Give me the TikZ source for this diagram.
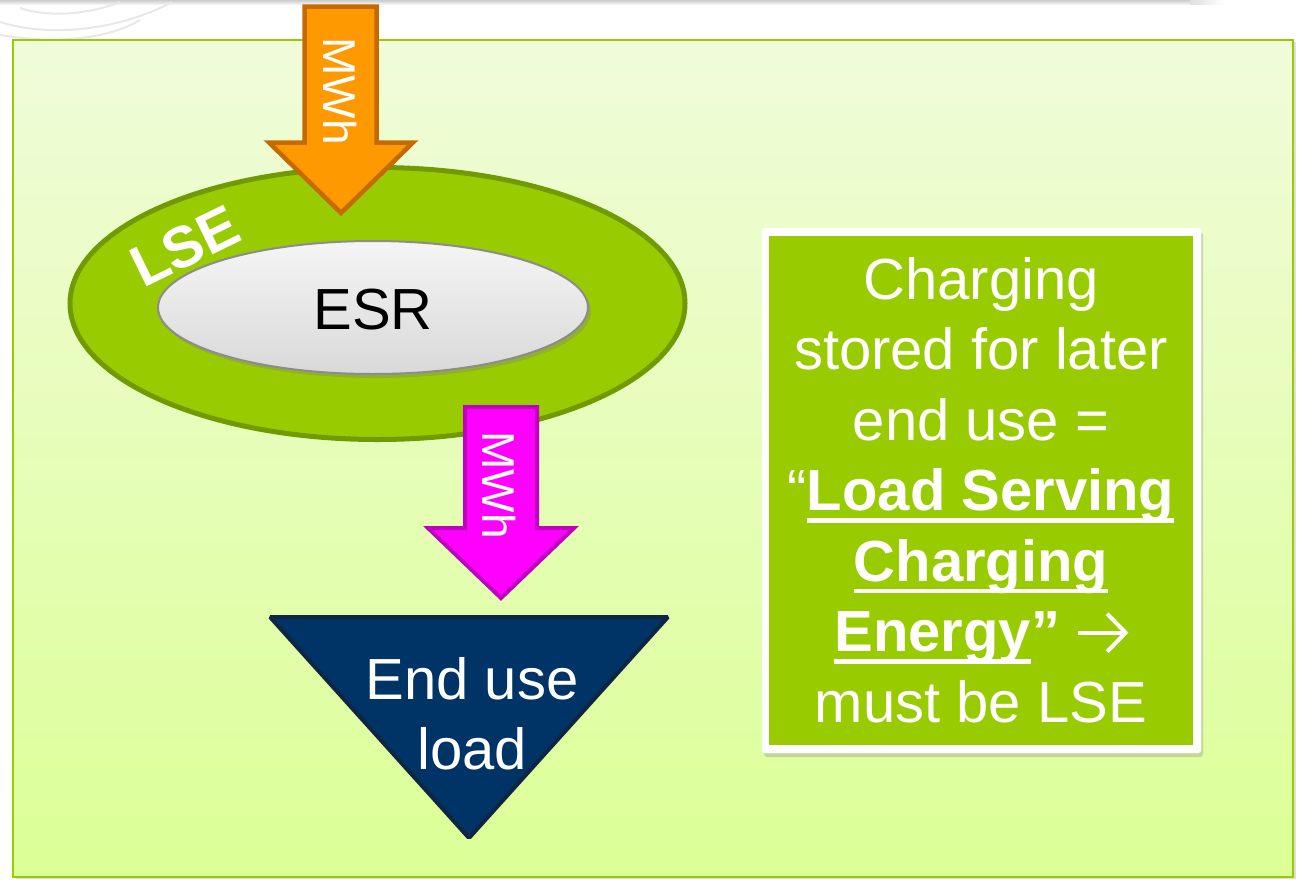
\documentclass[tikz,border=0pt]{standalone}
\usepackage{fontspec}
\setmainfont{Liberation Sans}
\usetikzlibrary{shadows,shapes.geometric}
\definecolor{panelTop}{HTML}{F0FCDA}
\definecolor{panelBot}{HTML}{DCFF96}
\definecolor{leaf}{HTML}{99CC00}
\definecolor{leafDark}{HTML}{709A00}
\definecolor{orangeF}{HTML}{FF9900}
\definecolor{orangeD}{HTML}{C56A00}
\definecolor{magF}{HTML}{FF00FF}
\definecolor{magD}{HTML}{C000C0}
\definecolor{navyF}{HTML}{003366}
\definecolor{navyD}{HTML}{0E2644}
\definecolor{esrD}{HTML}{8C8C8C}
\newcommand\myul[1]{\setbox0\hbox{#1}\rlap{\rule[-12pt]{\wd0}{4.5pt}}\box0}
\newcommand\rarrowsym{\begin{tikzpicture}[x=1pt,y=1pt,baseline=0pt]
  \draw[white, line width=4pt, line cap=butt, line join=miter] (0,19) -- (46,19);
  \draw[white, line width=4pt, line join=miter] (29,38) -- (47.5,19) -- (29,0);
\end{tikzpicture}}
\tikzset{
  bigtext/.style={font=\fontsize{58}{70.5}\selectfont, inner sep=0pt},
  mwhtext/.style={font=\fontsize{46}{50}\selectfont, text=white, rotate=-90, inner sep=0pt},
  blockarrow/.style={line width=4.5pt, line join=miter},
}
\begin{document}
\begin{tikzpicture}[x=1pt,y=-1pt]
\useasboundingbox (0,0) rectangle (1299,879);
\fill[white] (0,0) rectangle (1299,879);
% slide decoration
\shade[top color=gray!40, bottom color=gray!10] (0,0) rectangle (1190,4);
\shade[left color=gray!25, right color=white] (1190,0) rectangle (1225,4);
\begin{scope}[gray!18, line width=2pt]
  \draw (0,22) .. controls (50,38) and (120,30) .. (172,2);
  \draw (0,35) .. controls (60,45) and (110,38) .. (140,20);
  \draw (20,8) .. controls (50,18) and (90,14) .. (120,2);
\end{scope}
% panel
\shade[top color=panelTop, bottom color=panelBot, drop shadow={opacity=0.25, shadow xshift=3pt, shadow yshift=-2pt}] (13,40) rectangle (1293,877);
\draw[leaf, line width=2.5pt] (13,40) rectangle (1293,877);
% LSE ellipse
\node[ellipse, draw=leafDark, fill=leaf, line width=5pt, minimum width=615pt, minimum height=272pt, inner sep=0pt] (lse) at (377.5,303.5) {};
% ESR ellipse
\node[ellipse, draw=esrD, line width=2pt, top color=gray!8, bottom color=gray!30, minimum width=430pt, minimum height=133pt, inner sep=0pt,
  drop shadow={opacity=0.35, shadow xshift=3pt, shadow yshift=-4pt}] (esr) at (373,307.5) {};
\node[bigtext, anchor=base] (esrlabel) at (373,329) {ESR};
% LSE label
\node[bigtext, font=\fontsize{58}{70}\selectfont\bfseries, text=white, rotate=26] (lselabel) at (185,246) {LSE};
% orange arrow
\draw[blockarrow, draw=orangeD, fill=orangeF] (304.5,6.5) coordinate (oa) -- (376.5,6.5) -- (376.5,142.5) -- (413,142.5) -- (341,213) coordinate (otip) -- (269,142.5) -- (304.5,142.5) -- cycle;
\node[mwhtext] (mwh1) at (340,91) {MWh};
% magenta arrow
\draw[blockarrow, line width=4pt, draw=magD, fill=magF] (465,407) coordinate (ma) -- (537,407) -- (537,528) -- (574,528) -- (501,598) coordinate (mtip) -- (428,528) -- (465,528) -- cycle;
\node[mwhtext] (mwh2) at (499,485) {MWh};
% end use triangle
\draw[line width=4pt, draw=navyD, fill=navyF, rounded corners=1.5pt] (270,617) coordinate (t1) -- (668,617) coordinate (t2) -- (469,838) coordinate (t3) -- cycle;
\node[bigtext, text=white, align=center, anchor=north] (enduse) at (472,657) {End use\\load};
% right box
\draw[white, fill=white, rounded corners=3pt, drop shadow={opacity=0.3, shadow xshift=2pt, shadow yshift=-4pt}] (762,228) rectangle (1201,753);
\fill[leaf] (769,236) rectangle (1193,745);
\node[bigtext, text=white, align=center, anchor=north] (note) at (981,257) {%
Charging\\
stored for later\\
end use =\\
“\myul{\bfseries Load Serving}\\
\myul{\bfseries Charging}\\
\myul{\bfseries Energy}{\bfseries ”} \rarrowsym\\
must be LSE};
\end{tikzpicture}
\end{document}
